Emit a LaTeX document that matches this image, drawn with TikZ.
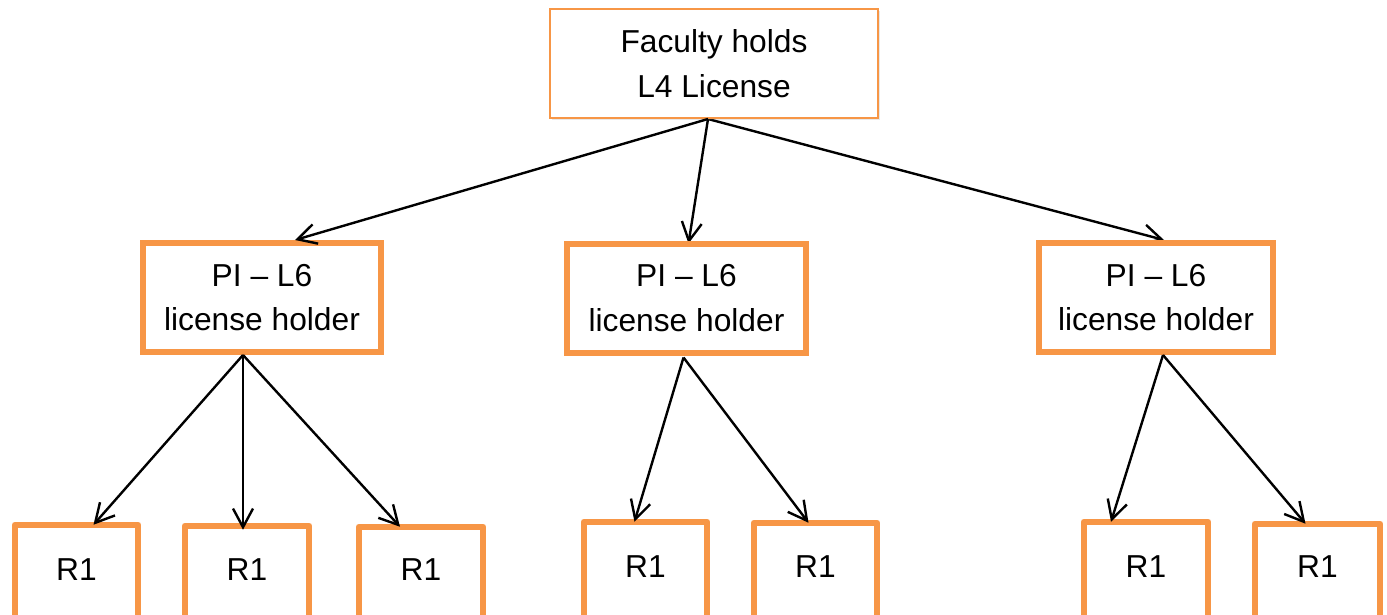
\documentclass[tikz,border=0pt]{standalone}
\usepackage{fontspec}
\setmainfont{Liberation Sans}
\usetikzlibrary{arrows.meta,calc,shadows}
\definecolor{boxorange}{HTML}{F79646}
\pgfdeclarelayer{background}
\pgfsetlayers{background,main}
\begin{document}
\begin{tikzpicture}[x=0.75pt,y=-0.75pt,
  every node/.style={font=\fontsize{23.8}{33.5}\selectfont, align=center, inner sep=0pt},
  topbox/.style={draw=boxorange, line width=1.5pt, fill=white,
    minimum width=328*0.75pt, minimum height=109*0.75pt,
    drop shadow={shadow xshift=1.2pt, shadow yshift=-1.5pt, opacity=0.18}},
  pibox/.style={draw=boxorange, fill=white, line width=4.5pt, minimum height=109*0.75pt},
  rbox/.style={draw=none},
  rline/.style={draw=boxorange, line width=4.5pt, line join=round},
  link/.style={line width=1.8pt, -{Straight Barb[length=14pt,width=15pt]}}]
\useasboundingbox (0,0) rectangle (1387,614);
\clip (0,0) rectangle (1387,614);

% root
\node[topbox] (top) at (714,63.5) {Faculty holds\\L4 License};

% principal investigators
\node[pibox, minimum width=238*0.75pt] (pi1) at (262,297.5) {PI -- L6\\license holder};
\node[pibox, minimum width=239*0.75pt] (pi2) at (686.5,298) {PI -- L6\\license holder};
\node[pibox, minimum width=234*0.75pt] (pi3) at (1156,297.5) {PI -- L6\\license holder};

% researchers: name / centre x / width / top of outline / text y
\foreach \n/\cx/\w/\t/\ty in {ra/76.5/123/525/570, rb/247/124/526/570, rc/421/124/527/570,
                              rd/645.5/123/522/567, re/815.5/123/523/567,
                              rf/1146/124/522/567, rg/1317.5/125/524/567}{
  \node[rbox, minimum width=\w*0.75pt, minimum height={2*(\ty-\t)*0.75pt}] (\n) at (\cx,\ty) {R1};
  \draw[rline] ([yshift=-30pt]\n.south west) -- (\n.north west) -- (\n.north east) -- ([yshift=-30pt]\n.south east);
}

% links from the root (the two right-hand heads tuck under their boxes)
\draw[link] ($(top.south)+(-6,0)$) -- ($(pi1.north)+(33,0)$);
\begin{pgfonlayer}{background}
\draw[link] ($(top.south)+(-6,0)$) -- ($(pi2.north)+(2,3)$);
\draw[link] ($(top.south)+(-6,0)$) -- ($(pi3.north)+(8,0)$);
\end{pgfonlayer}

% links to researchers
\draw[link] ($(pi1.south)+(-19,0)$) -- ($(ra.north)+(17,0)$);
\draw[link] ($(pi1.south)+(-19,0)$) -- ($(rb.north)+(-4,4)$);
\draw[link] ($(pi1.south)+(-19,0)$) -- ($(rc.north)+(-21,0)$);

\draw[link] ($(pi2.south)+(-3,2)$) -- ($(rd.north)+(-11,0)$);
\draw[link] ($(pi2.south)+(-3,2)$) -- ($(re.north)+(-7,0)$);

\draw[link] ($(pi3.south)+(7,0)$) -- ($(rf.north)+(-35,0)$);
\draw[link] ($(pi3.south)+(7,0)$) -- ($(rg.north)+(-12,0)$);
\end{tikzpicture}
\end{document}
